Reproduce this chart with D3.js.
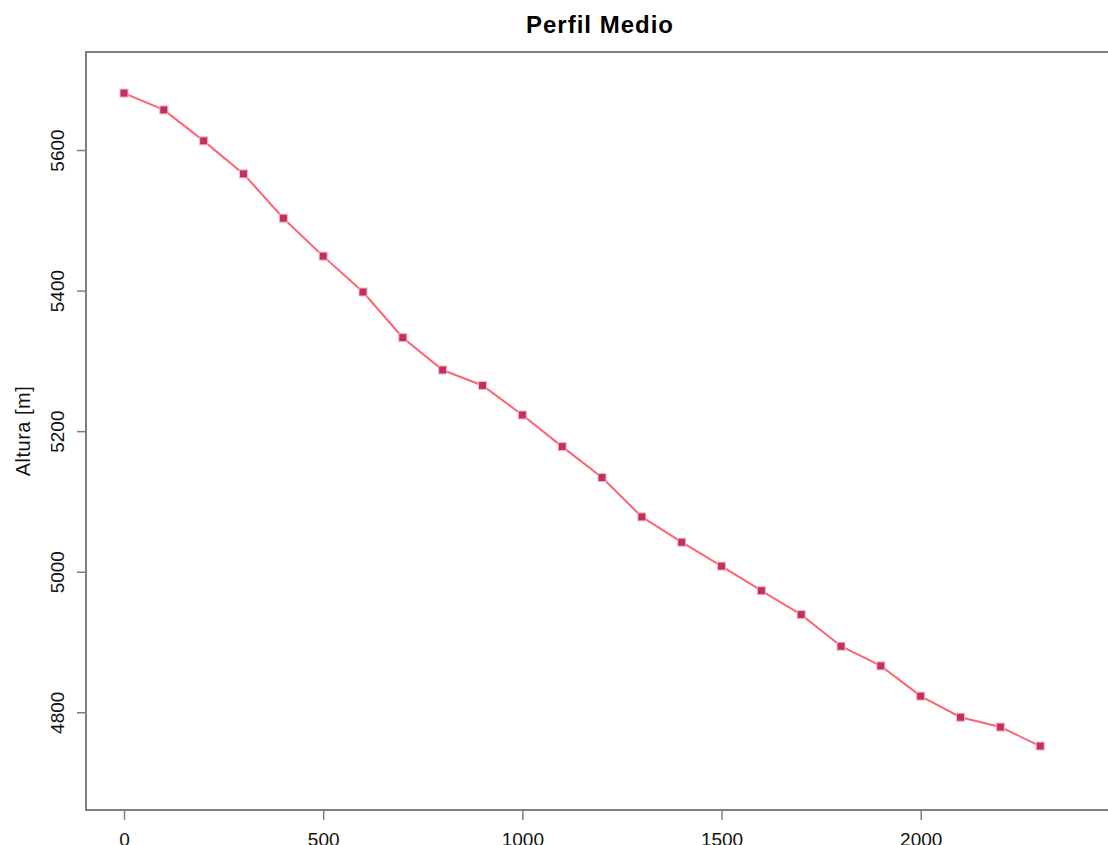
<!DOCTYPE html>
<html lang="en">
<head>
  <meta charset="UTF-8">
  <title>Perfil Medio</title>
  <style>
    body { margin: 0; background: #fff; }
    text { font-family: "Liberation Sans", Arial, sans-serif; }
  </style>
</head>
<body>
  <script src="https://d3js.org/d3.v7.min.js"></script>
  <script>
    const distancia = [0, 100, 200, 300, 400, 500, 600, 700, 800, 900, 1000, 1100,
      1200, 1300, 1400, 1500, 1600, 1700, 1800, 1900, 2000, 2100, 2200, 2300];
    const altura = [5681, 5657, 5613, 5566, 5503, 5449, 5398, 5333, 5287, 5265, 5223, 5178,
      5134, 5078, 5042, 5008, 4973, 4939, 4894, 4866, 4823, 4793, 4779, 4752];
    const xTicks = [0, 500, 1000, 1500, 2000];
    const yTicks = [4800, 5000, 5200, 5400, 5600];

    const ds = distancia.map((d, i) => ({ x: d, y: altura[i] }));

    const width = 1108;
    const height = 845;
    const box = { left: 86, top: 52, right: 1116, bottom: 810 };

    const xScale = d3.scaleLinear().domain([0, 2000]).range([124, 920.7]);
    const yScale = d3.scaleLinear().domain([4800, 5600]).range([712.3, 150]);

    const svg = d3.select('body')
      .append('svg')
      .attr('width', width)
      .attr('height', height);

    // plot box
    svg.append('rect')
      .attr('x', box.left)
      .attr('y', box.top)
      .attr('width', box.right - box.left)
      .attr('height', box.bottom - box.top)
      .attr('fill', 'none')
      .attr('stroke', '#7f7f7f')
      .attr('stroke-width', 2);

    const xAxis = d3.axisBottom(xScale)
      .tickValues(xTicks)
      .tickSize(10)
      .tickFormat(d3.format('d'));

    const gx = svg.append('g')
      .attr('transform', `translate(0, ${box.bottom})`)
      .call(xAxis);
    gx.select('.domain').remove();
    gx.selectAll('line').attr('stroke', '#7f7f7f').attr('stroke-width', 1.5);
    gx.selectAll('text')
      .attr('font-size', 19)
      .attr('fill', '#111')
      .attr('dy', null)
      .attr('y', 35.5);

    const yAxis = d3.axisLeft(yScale)
      .tickValues(yTicks)
      .tickSize(9)
      .tickFormat(d3.format('d'));

    const gy = svg.append('g')
      .attr('transform', `translate(${box.left}, 0)`)
      .call(yAxis);
    gy.select('.domain').remove();
    gy.selectAll('line').attr('stroke', '#7f7f7f').attr('stroke-width', 1.5);
    gy.selectAll('text')
      .attr('font-size', 19)
      .attr('fill', '#111')
      .attr('x', null)
      .attr('dy', null)
      .attr('text-anchor', 'middle')
      .attr('transform', 'translate(-22.5, 0) rotate(-90)');

    // y axis title
    svg.append('text')
      .attr('transform', `translate(29.5, ${(box.top + box.bottom) / 2}) rotate(-90)`)
      .attr('text-anchor', 'middle')
      .attr('font-size', 20)
      .attr('letter-spacing', 0.5)
      .attr('fill', '#111')
      .text('Altura [m]');

    // title
    svg.append('text')
      .attr('x', 600)
      .attr('y', 33.3)
      .attr('text-anchor', 'middle')
      .attr('font-size', 24)
      .attr('letter-spacing', 1)
      .attr('font-weight', 'bold')
      .attr('fill', '#000')
      .text('Perfil Medio');

    const line = d3.line()
      .x(d => xScale(d.x))
      .y(d => yScale(d.y));

    svg.append('path')
      .datum(ds)
      .attr('fill', 'none')
      .attr('stroke', '#ff6470')
      .attr('stroke-width', 2)
      .attr('d', line);

    const s = 8;
    svg.append('g')
      .selectAll('rect')
      .data(ds)
      .join('rect')
      .attr('x', d => xScale(d.x) - s / 2)
      .attr('y', d => yScale(d.y) - s / 2)
      .attr('width', s)
      .attr('height', s)
      .attr('fill', '#c4305e')
      .attr('stroke', '#f2b8c8')
      .attr('stroke-width', 1);
  </script>
</body>
</html>
